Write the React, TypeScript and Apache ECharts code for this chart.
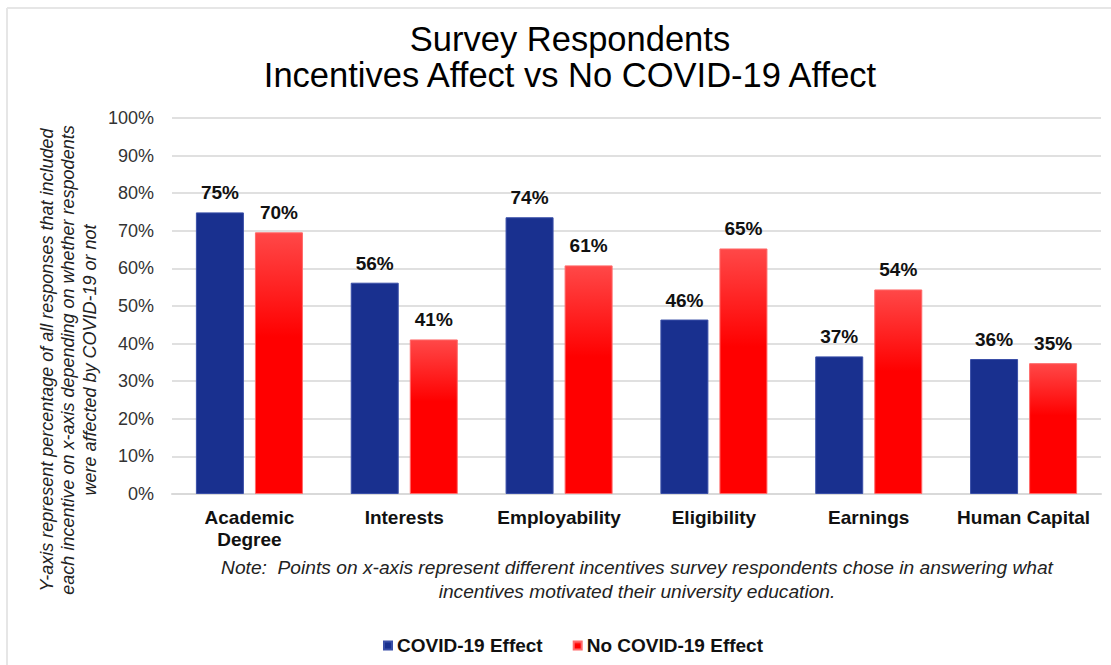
import React, { useEffect, useRef } from "react";
import * as echarts from "echarts";

const categories = ["Academic\nDegree", "Interests", "Employability", "Eligibility", "Earnings", "Human Capital"];
const covidEffect = [74.9, 56.2, 73.6, 46.4, 36.6, 35.9];
const noCovidEffect = [69.6, 41.1, 60.8, 65.3, 54.4, 34.8];
const yTicks = { min: 0, max: 100, interval: 10 };
const titleText = "Survey Respondents\nIncentives Affect vs No COVID-19 Affect";
const noteText =
  "Note:  Points on x-axis represent different incentives survey respondents chose in answering what\nincentives motivated their university education.";
const yTitleText =
  "Y-axis represent percentage of all responses that included\neach incentive on x-axis depending on whether respodents\nwere affected by COVID-19 or not";
const seriesNames = ["COVID-19 Effect", "No COVID-19 Effect"];

const FONT = "Liberation Sans, Arial, Helvetica, sans-serif";

export default function App() {
  const ref = useRef<HTMLDivElement>(null);
  useEffect(() => {
    if (!ref.current) return;
    const chart = echarts.init(ref.current, undefined, { renderer: "svg" });
    const labelStyle = {
      show: true,
      position: "top" as const,
      distance: 10,
      fontFamily: FONT,
      fontSize: 19,
      fontWeight: "bold" as const,
      color: "#111",
      formatter: (p: any) => Math.round(p.value) + "%",
    };
    chart.setOption({
      animation: false,
      backgroundColor: "#ffffff",
      legend: {
        data: seriesNames,
        left: 378,
        top: 631,
        icon: "rect",
        itemWidth: 8,
        itemHeight: 8,
        itemGap: 30,
        textStyle: { fontFamily: FONT, fontSize: 19, fontWeight: "bold", color: "#111" },
      },
      grid: { left: 172, right: 10, top: 118, bottom: 171, containLabel: false },
      xAxis: {
        type: "category",
        data: categories,
        axisLine: { show: true, lineStyle: { color: "#d9d9d9", width: 2 } },
        axisTick: { show: false },
        axisLabel: {
          margin: 12,
          fontFamily: FONT,
          fontSize: 19,
          fontWeight: "bold",
          color: "#111",
          lineHeight: 22,
          interval: 0,
        },
      },
      yAxis: {
        type: "value",
        min: yTicks.min,
        max: yTicks.max,
        interval: yTicks.interval,
        axisLine: { show: false },
        axisTick: { show: false },
        splitLine: { lineStyle: { color: "#e0e0e0", width: 2 } },
        axisLabel: {
          margin: 18,
          fontFamily: FONT,
          fontSize: 18,
          color: "#333",
          formatter: (v: number) => v + "%",
        },
      },
      series: [
        {
          name: seriesNames[0],
          type: "bar",
          data: covidEffect,
          barWidth: 48,
          barGap: "23%",
          itemStyle: { color: "#19308f", borderColor: "#3a4fa8", borderWidth: 1 },
          label: labelStyle,
        },
        {
          name: seriesNames[1],
          type: "bar",
          data: noCovidEffect,
          barWidth: 48,
          itemStyle: {
            color: new echarts.graphic.LinearGradient(0, 0, 0, 1, [
              { offset: 0, color: "#ff4848" },
              { offset: 0.4, color: "#ff0000" },
              { offset: 1, color: "#ff0000" },
            ]),
            borderColor: "#ff6a6a",
            borderWidth: 1,
          },
          label: labelStyle,
        },
      ],
      graphic: [
        {
          type: "line",
          shape: { x1: 7, y1: 8, x2: 1111, y2: 8 },
          style: { stroke: "#e6e6e6", lineWidth: 2 },
          silent: true,
        },
        {
          type: "line",
          shape: { x1: 7, y1: 8, x2: 7, y2: 665 },
          style: { stroke: "#e6e6e6", lineWidth: 2 },
          silent: true,
        },
        {
          type: "text",
          x: 570,
          y: 57,
          style: {
            text: titleText,
            fontFamily: FONT,
            fontSize: 34.5,
            fill: "#000",
            align: "center",
            verticalAlign: "middle",
            lineHeight: 36,
          },
        },
        {
          type: "text",
          x: 637,
          y: 579,
          style: {
            text: noteText,
            fontFamily: FONT,
            fontSize: 19.2,
            fontStyle: "italic",
            fill: "#222",
            align: "center",
            verticalAlign: "middle",
            lineHeight: 24,
          },
        },
        {
          type: "text",
          x: 68,
          y: 360,
          rotation: Math.PI / 2,
          style: {
            text: yTitleText,
            fontFamily: FONT,
            fontSize: 18,
            fontStyle: "italic",
            fill: "#222",
            align: "center",
            verticalAlign: "middle",
            lineHeight: 21.5,
          },
        },
      ],
    });
    return () => chart.dispose();
  }, []);
  return (
    <div
      ref={ref}
      style={{ position: "fixed", left: 0, top: 0, width: 1111, height: 665 }}
    />
  );
}
